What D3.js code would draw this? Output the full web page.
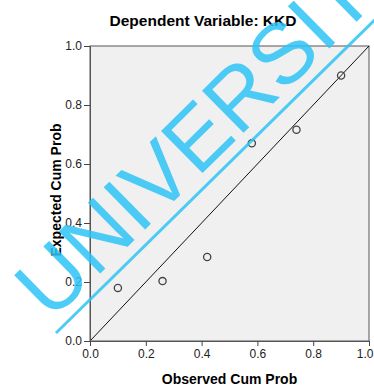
<!DOCTYPE html>
<html>
<head>
<meta charset="utf-8">
<script src="https://cdn.jsdelivr.net/npm/d3@7"></script>
<style>
  body { margin: 0; background: #fff; }
  svg { display: block; font-family: Arial, "Liberation Sans", sans-serif; }
</style>
</head>
<body>
<svg id="vis" width="374" height="389"></svg>
<script>
// observed vs expected cumulative probability
var observed = [0.10, 0.26, 0.42, 0.58, 0.74, 0.90];
var expected = [0.18, 0.203, 0.285, 0.67, 0.716, 0.90];
var tickValues = [0, 0.2, 0.4, 0.6, 0.8, 1.0];
var titleText = "Dependent Variable: KKD";
var watermarkText = "UNIVERSITI";

var svg = d3.select("svg#vis");

var attr = {
  left: 90,
  right: 369,
  top: 46,
  bottom: 341
};

var x = d3.scaleLinear().domain([0, 1]).range([attr.left, attr.right]);
var y = d3.scaleLinear().domain([0, 1]).range([attr.bottom, attr.top]);

// plot background
svg.append("rect")
  .attr("x", attr.left)
  .attr("y", attr.top)
  .attr("width", attr.right - attr.left)
  .attr("height", attr.bottom - attr.top)
  .style("fill", "#f0f0f0")
  .style("stroke", "#555")
  .style("stroke-width", 1);

// reference line
svg.append("line")
  .attr("x1", x(0)).attr("y1", y(0))
  .attr("x2", x(1)).attr("y2", y(1))
  .style("stroke", "#111")
  .style("stroke-width", 1);

// axes
var xAxis = svg.append("g")
  .attr("transform", translate(0, attr.bottom))
  .call(d3.axisBottom(x).tickValues(tickValues).tickFormat(d3.format(".1f")).tickSize(5).tickPadding(3));

var yAxis = svg.append("g")
  .attr("transform", translate(attr.left, 0))
  .call(d3.axisLeft(y).tickValues(tickValues).tickFormat(d3.format(".1f")).tickSize(6).tickPadding(2));

[xAxis, yAxis].forEach(function(a) {
  a.select(".domain").style("stroke", "#555");
  a.selectAll(".tick line").style("stroke", "#444");
  a.selectAll(".tick text")
    .style("font-size", "12px")
    .style("font-family", "Arial, 'Liberation Sans', sans-serif")
    .style("fill", "#222");
});
// last x label sits on the page edge, pull it inside
xAxis.selectAll(".tick text").filter(d => d === 1)
  .attr("text-anchor", "end")
  .attr("x", 4);

// points
svg.append("g").selectAll("circle")
  .data(observed.map(function(d, i) { return { obs: d, exp: expected[i] }; }))
  .enter()
  .append("circle")
  .attr("cx", d => x(d.obs))
  .attr("cy", d => y(d.exp))
  .attr("r", 3.6)
  .style("fill", "none")
  .style("stroke", "#444")
  .style("stroke-width", 1.3);

// titles
svg.append("text")
  .attr("x", 203)
  .attr("y", 26)
  .attr("text-anchor", "middle")
  .style("font-size", "15.5px")
  .style("font-weight", "bold")
  .text(titleText);

svg.append("text")
  .attr("x", (attr.left + attr.right) / 2)
  .attr("y", 384)
  .attr("text-anchor", "middle")
  .style("font-size", "14px")
  .style("font-weight", "bold")
  .text("Observed Cum Prob");

svg.append("text")
  .attr("transform", translate(61, 190) + " rotate(-90)")
  .attr("text-anchor", "middle")
  .style("font-size", "14px")
  .style("font-weight", "bold")
  .text("Expected Cum Prob");

// watermark
var wm = svg.append("g").style("opacity", 0.85);
wm.append("text")
  .attr("transform", translate(51, 322) + " rotate(-44.5)")
  .style("font-size", "86px")
  .style("fill", "#2ec4f6")
  .text(watermarkText);
wm.append("line")
  .attr("x1", 56).attr("y1", 333)
  .attr("x2", 390).attr("y2", 5)
  .style("stroke", "#2ec4f6")
  .style("stroke-width", 3);

function translate(x, y) {
  return "translate(" + String(x) + "," + String(y) + ")";
}
</script>
</body>
</html>
